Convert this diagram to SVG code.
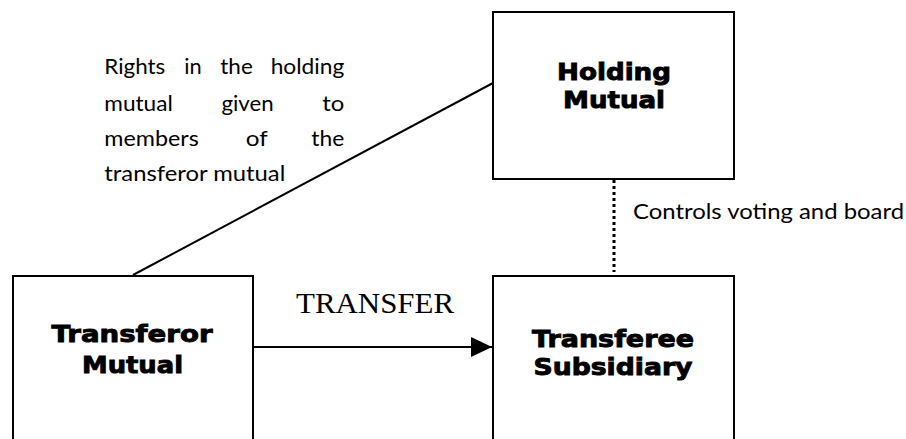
<svg xmlns="http://www.w3.org/2000/svg" width="906" height="439" viewBox="0 0 906 439">
<style>
.box{fill:#fff;stroke:#000;stroke-width:2}
.bt{font-family:"DejaVu Sans",sans-serif;font-weight:bold;font-size:23.5px;fill:#000;stroke:#000;stroke-width:0.9;text-anchor:middle}
.nt{font-family:Lato,"Open Sans",sans-serif;font-size:21px;fill:#000}
.ln{stroke:#000;stroke-width:2;fill:none}
</style>
<defs>
<marker id="ah" markerUnits="userSpaceOnUse" markerWidth="22" markerHeight="20" refX="21" refY="10" orient="auto">
<path d="M0,0 L21,10 L0,20 Z" fill="#000"/>
</marker>
</defs>
<rect width="906" height="439" fill="#fff"/>
<g id="connectors">
<line class="ln" x1="133" y1="275" x2="493" y2="83"/>
<line x1="614" y1="180" x2="614" y2="272" stroke="#000" stroke-width="3" stroke-dasharray="3 3"/>
<line class="ln" x1="254" y1="347" x2="492" y2="347" marker-end="url(#ah)"/>
</g>
<g id="holding">
<rect class="box" x="493" y="12" width="241" height="167"/>
<text class="bt" x="614" y="80" textLength="114" lengthAdjust="spacingAndGlyphs">Holding</text>
<text class="bt" x="614" y="107.5" textLength="102" lengthAdjust="spacingAndGlyphs">Mutual</text>
</g>
<g id="transferor">
<rect class="box" x="13" y="276" width="240" height="175"/>
<text class="bt" x="132" y="342.3" textLength="161" lengthAdjust="spacingAndGlyphs">Transferor</text>
<text class="bt" x="132.5" y="373" textLength="101" lengthAdjust="spacingAndGlyphs">Mutual</text>
</g>
<g id="transferee">
<rect class="box" x="493" y="276" width="241" height="175"/>
<text class="bt" x="613" y="346.5" textLength="162" lengthAdjust="spacingAndGlyphs">Transferee</text>
<text class="bt" x="613" y="374.5" textLength="159" lengthAdjust="spacingAndGlyphs">Subsidiary</text>
</g>
<g id="labels">
<text class="nt" y="73.5"><tspan x="104.3" textLength="61" lengthAdjust="spacingAndGlyphs">Rights</tspan><tspan x="184.3" textLength="17.4" lengthAdjust="spacingAndGlyphs">in</tspan><tspan x="220.3" textLength="32.5" lengthAdjust="spacingAndGlyphs">the</tspan><tspan x="270.7" textLength="73.6" lengthAdjust="spacingAndGlyphs">holding</tspan></text>
<text class="nt" y="110.7"><tspan x="104.3" textLength="68.5" lengthAdjust="spacingAndGlyphs">mutual</tspan><tspan x="221.4" textLength="52.2" lengthAdjust="spacingAndGlyphs">given</tspan><tspan x="322.3" textLength="22" lengthAdjust="spacingAndGlyphs">to</tspan></text>
<text class="nt" y="146"><tspan x="104.3" textLength="94.5" lengthAdjust="spacingAndGlyphs">members</tspan><tspan x="245.8" textLength="22" lengthAdjust="spacingAndGlyphs">of</tspan><tspan x="311.3" textLength="33" lengthAdjust="spacingAndGlyphs">the</tspan></text>
<text class="nt" x="104.3" y="181" textLength="181" lengthAdjust="spacingAndGlyphs">transferor mutual</text>
<text class="nt" x="633" y="218.5" textLength="271" lengthAdjust="spacingAndGlyphs">Controls voting and board</text>
<text x="296" y="313.3" font-family="'Liberation Serif',serif" font-size="30" textLength="158" lengthAdjust="spacingAndGlyphs">TRANSFER</text>
</g>
</svg>
